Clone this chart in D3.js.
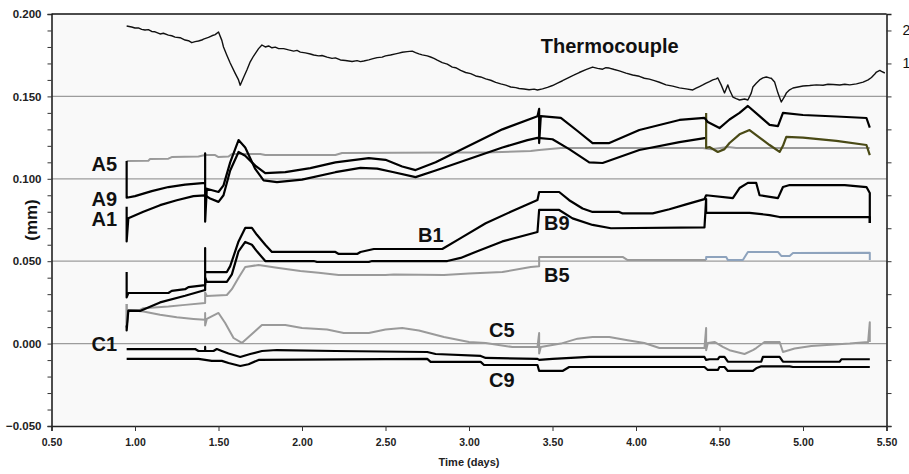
<!DOCTYPE html>
<html>
<head>
<meta charset="utf-8">
<style>
html,body { margin:0; padding:0; background:#fff; }
svg { display:block; }
text { font-family: Arial, "Liberation Sans", sans-serif; font-weight:bold; }
</style>
</head>
<body>
<svg width="909" height="474"></svg>
<script src="https://d3js.org/d3.v7.min.js"></script>
<script>
// values: [time (days), displacement (mm)]
var thermocouple = [[0.95,0.1927],[0.98,0.1921],[1.00,0.1915],[1.02,0.1916],[1.04,0.1907],[1.06,0.1903],[1.08,0.1905],[1.10,0.1894],[1.12,0.1892],[1.15,0.1879],[1.17,0.1883],[1.20,0.1872],[1.22,0.1868],[1.24,0.1860],[1.27,0.1856],[1.30,0.1842],[1.32,0.1838],[1.34,0.1826],[1.36,0.1832],[1.38,0.1836],[1.40,0.1842],[1.41,0.1848],[1.44,0.1858],[1.46,0.1868],[1.48,0.1875],[1.50,0.1891],[1.52,0.1840],[1.53,0.1800],[1.55,0.1750],[1.57,0.1703],[1.60,0.1640],[1.62,0.1600],[1.63,0.1568],[1.65,0.1615],[1.67,0.1660],[1.69,0.1710],[1.71,0.1745],[1.74,0.1790],[1.76,0.1812],[1.78,0.1800],[1.80,0.1806],[1.82,0.1795],[1.84,0.1799],[1.86,0.1790],[1.89,0.1790],[1.92,0.1782],[1.95,0.1775],[1.97,0.1779],[1.99,0.1769],[2.02,0.1764],[2.05,0.1757],[2.07,0.1751],[2.10,0.1746],[2.12,0.1748],[2.15,0.1738],[2.18,0.1731],[2.20,0.1734],[2.23,0.1721],[2.26,0.1718],[2.28,0.1715],[2.30,0.1712],[2.33,0.1717],[2.35,0.1711],[2.37,0.1715],[2.40,0.1722],[2.42,0.1728],[2.45,0.1735],[2.48,0.1738],[2.50,0.1746],[2.53,0.1751],[2.56,0.1758],[2.58,0.1763],[2.60,0.1768],[2.63,0.1772],[2.66,0.1775],[2.68,0.1766],[2.70,0.1758],[2.72,0.1752],[2.75,0.1746],[2.77,0.1739],[2.79,0.1731],[2.81,0.1720],[2.84,0.1705],[2.87,0.1696],[2.90,0.1678],[2.92,0.1674],[2.95,0.1658],[2.98,0.1645],[3.01,0.1638],[3.04,0.1624],[3.07,0.1618],[3.10,0.1606],[3.13,0.1598],[3.16,0.1585],[3.19,0.1576],[3.22,0.1568],[3.25,0.1557],[3.28,0.1553],[3.30,0.1548],[3.33,0.1545],[3.36,0.1540],[3.39,0.1544],[3.41,0.1539],[3.44,0.1546],[3.47,0.1555],[3.50,0.1566],[3.53,0.1581],[3.56,0.1595],[3.60,0.1616],[3.63,0.1630],[3.66,0.1645],[3.70,0.1662],[3.74,0.1678],[3.77,0.1670],[3.80,0.1665],[3.82,0.1674],[3.84,0.1672],[3.87,0.1663],[3.90,0.1655],[3.94,0.1641],[3.98,0.1630],[4.02,0.1622],[4.05,0.1610],[4.08,0.1605],[4.11,0.1596],[4.14,0.1586],[4.18,0.1570],[4.22,0.1562],[4.26,0.1552],[4.30,0.1546],[4.34,0.1539],[4.36,0.1550],[4.38,0.1560],[4.40,0.1570],[4.42,0.1581],[4.44,0.1590],[4.46,0.1600],[4.48,0.1606],[4.49,0.1612],[4.51,0.1570],[4.53,0.1521],[4.55,0.1570],[4.56,0.1540],[4.58,0.1496],[4.60,0.1486],[4.62,0.1478],[4.65,0.1484],[4.67,0.1478],[4.69,0.1520],[4.70,0.1557],[4.72,0.1580],[4.74,0.1600],[4.76,0.1612],[4.78,0.1618],[4.80,0.1612],[4.81,0.1610],[4.83,0.1587],[4.85,0.1520],[4.87,0.1466],[4.89,0.1500],[4.90,0.1520],[4.92,0.1540],[4.94,0.1551],[4.97,0.1557],[5.00,0.1563],[5.04,0.1566],[5.08,0.1570],[5.12,0.1568],[5.15,0.1574],[5.18,0.1572],[5.22,0.1569],[5.25,0.1574],[5.28,0.1570],[5.32,0.1576],[5.36,0.1587],[5.39,0.1600],[5.41,0.1615],[5.43,0.1636],[5.44,0.1648],[5.46,0.1658],[5.47,0.1652],[5.49,0.1642]];

var a5 = [[0.95,0.1108],[1.08,0.1110],[1.09,0.1120],[1.20,0.1122],[1.22,0.1132],[1.38,0.1135],[1.42,0.1144],[1.48,0.1144],[1.50,0.1132],[1.56,0.1135],[1.58,0.1150],[1.75,0.1150],[1.78,0.1144],[2.20,0.1144],[2.24,0.1157],[2.90,0.1160],[3.10,0.1160],[3.37,0.1169],[3.42,0.1175],[3.55,0.1187],[4.40,0.1187],[4.45,0.1180],[4.55,0.1193],[4.60,0.1187],[5.40,0.1187]];

var a9 = [[0.95,0.1108],[0.95,0.0885],[1.00,0.0895],[1.10,0.0925],[1.20,0.0950],[1.30,0.0965],[1.42,0.0975],[1.42,0.1155],[1.42,0.0740],[1.43,0.0940],[1.50,0.0920],[1.53,0.0960],[1.57,0.1100],[1.62,0.1235],[1.66,0.1190],[1.72,0.1060],[1.77,0.0990],[1.85,0.0980],[2.00,0.0995],[2.20,0.1040],[2.35,0.1066],[2.45,0.1062],[2.55,0.1040],[2.68,0.1010],[2.80,0.1050],[3.00,0.1120],[3.20,0.1190],[3.35,0.1235],[3.41,0.1248],[3.50,0.1240],[3.60,0.1180],[3.72,0.1100],[3.80,0.1096],[4.02,0.1175],[4.26,0.1223],[4.42,0.1248]];
var a9Late = [[4.42,0.1400],[4.42,0.1187],[4.44,0.1193],[4.49,0.1163],[4.53,0.1180],[4.56,0.1217],[4.62,0.1270],[4.68,0.1296],[4.74,0.1250],[4.80,0.1205],[4.86,0.1163],[4.88,0.1200],[4.90,0.1254],[5.00,0.1250],[5.20,0.1230],[5.38,0.1205],[5.40,0.1144]];

var a1 = [[0.95,0.0830],[0.95,0.0620],[0.96,0.0760],[1.05,0.0800],[1.15,0.0840],[1.25,0.0870],[1.35,0.0895],[1.42,0.0900],[1.45,0.0880],[1.50,0.0860],[1.53,0.0900],[1.57,0.1050],[1.62,0.1163],[1.66,0.1140],[1.72,0.1080],[1.78,0.1035],[1.90,0.1040],[2.05,0.1065],[2.20,0.1100],[2.40,0.1126],[2.50,0.1115],[2.60,0.1075],[2.68,0.1053],[2.80,0.1100],[3.00,0.1200],[3.20,0.1300],[3.41,0.1380],[3.42,0.1424],[3.42,0.1217],[3.43,0.1380],[3.55,0.1370],[3.65,0.1290],[3.74,0.1217],[3.84,0.1217],[4.02,0.1296],[4.26,0.1357],[4.41,0.1370],[4.43,0.1345],[4.50,0.1308],[4.56,0.1360],[4.62,0.1400],[4.67,0.1442],[4.74,0.1380],[4.80,0.1327],[4.85,0.1320],[4.88,0.1400],[5.00,0.1387],[5.20,0.1378],[5.38,0.1369],[5.40,0.1310]];

var b1 = [[0.95,0.0434],[0.95,0.0280],[0.96,0.0307],[1.20,0.0307],[1.22,0.0320],[1.30,0.0330],[1.32,0.0343],[1.42,0.0355],[1.42,0.0580],[1.42,0.0434],[1.55,0.0434],[1.57,0.0470],[1.62,0.0620],[1.66,0.0702],[1.70,0.0702],[1.73,0.0660],[1.78,0.0600],[1.82,0.0556],[2.20,0.0556],[2.22,0.0544],[2.33,0.0544],[2.35,0.0556],[2.43,0.0574],[2.84,0.0574],[2.95,0.0640],[3.10,0.0730],[3.25,0.0800],[3.41,0.0871],[3.42,0.0920],[3.54,0.0920],[3.60,0.0870],[3.68,0.0820],[3.74,0.0799],[3.90,0.0799],[3.92,0.0790],[4.10,0.0790],[4.20,0.0815],[4.30,0.0845],[4.41,0.0877],[4.42,0.0900],[4.58,0.0883],[4.62,0.0944],[4.67,0.0975],[4.72,0.0975],[4.74,0.0900],[4.85,0.0883],[4.88,0.0950],[4.92,0.0962],[5.25,0.0962],[5.38,0.0950],[5.40,0.0914],[5.40,0.0732]];

var b9 = [[0.95,0.0110],[0.95,0.0080],[0.96,0.0200],[1.03,0.0198],[1.15,0.0250],[1.30,0.0290],[1.42,0.0325],[1.42,0.0400],[1.43,0.0374],[1.55,0.0374],[1.58,0.0420],[1.62,0.0560],[1.66,0.0617],[1.70,0.0600],[1.73,0.0560],[1.78,0.0501],[2.07,0.0501],[2.09,0.0495],[2.40,0.0495],[2.42,0.0501],[2.87,0.0501],[2.95,0.0520],[3.05,0.0560],[3.20,0.0620],[3.41,0.0677],[3.42,0.0811],[3.54,0.0811],[3.62,0.0760],[3.74,0.0720],[3.85,0.0700],[4.41,0.0705],[4.42,0.0877],[4.42,0.0793],[4.68,0.0793],[4.80,0.0780],[4.86,0.0768],[5.40,0.0768],[5.40,0.0732]];

var b5 = [[0.95,0.0240],[0.95,0.0100],[0.96,0.0204],[1.03,0.0204],[1.05,0.0215],[1.20,0.0225],[1.30,0.0235],[1.42,0.0246],[1.42,0.0310],[1.43,0.0289],[1.55,0.0295],[1.58,0.0330],[1.62,0.0400],[1.66,0.0465],[1.74,0.0477],[1.85,0.0460],[1.99,0.0440],[2.10,0.0430],[2.22,0.0416],[2.50,0.0416],[2.55,0.0420],[2.85,0.0416],[3.00,0.0425],[3.20,0.0434],[3.37,0.0465],[3.42,0.0470],[3.42,0.0526],[3.92,0.0526],[3.95,0.0507],[4.42,0.0507]];
var b5Late = [[4.42,0.0507],[4.42,0.0526],[4.54,0.0526],[4.55,0.0507],[4.64,0.0507],[4.67,0.0556],[4.85,0.0556],[4.87,0.0532],[4.92,0.0532],[4.94,0.0550],[5.40,0.0552],[5.40,0.0507]];

var c5 = [[0.95,0.0240],[0.95,0.0100],[0.96,0.0204],[1.05,0.0195],[1.15,0.0175],[1.25,0.0160],[1.35,0.0150],[1.42,0.0144],[1.42,0.0186],[1.42,0.0110],[1.43,0.0150],[1.50,0.0186],[1.54,0.0125],[1.59,0.0034],[1.64,0.0004],[1.68,0.0040],[1.76,0.0113],[1.90,0.0113],[2.00,0.0095],[2.15,0.0085],[2.25,0.0064],[2.40,0.0064],[2.50,0.0085],[2.60,0.0094],[2.70,0.0080],[2.85,0.0040],[3.00,0.0010],[3.10,0.0004],[3.26,-0.0021],[3.41,-0.0021],[3.42,0.0064],[3.42,-0.0060],[3.43,-0.0021],[3.55,0.0000],[3.65,0.0030],[3.74,0.0040],[3.84,0.0040],[3.95,0.0020],[4.05,0.0004],[4.14,-0.0027],[4.41,-0.0027],[4.42,0.0095],[4.42,-0.0040],[4.43,0.0004],[4.47,0.0010],[4.52,-0.0020],[4.56,-0.0040],[4.65,-0.0063],[4.70,-0.0040],[4.72,-0.0027],[4.77,0.0010],[4.86,0.0010],[4.88,-0.0051],[4.95,-0.0030],[5.05,-0.0015],[5.28,0.0000],[5.39,0.0010],[5.40,0.0130],[5.40,0.0010]];

var c1 = [[0.95,-0.0033],[1.36,-0.0033],[1.38,-0.0045],[1.42,-0.0045],[1.42,-0.0020],[1.42,-0.0045],[1.47,-0.0045],[1.49,-0.0033],[1.52,-0.0045],[1.56,-0.0060],[1.63,-0.0081],[1.69,-0.0063],[1.76,-0.0045],[1.85,-0.0039],[2.20,-0.0045],[2.75,-0.0051],[2.80,-0.0063],[3.07,-0.0075],[3.10,-0.0087],[3.41,-0.0093],[3.42,-0.0099],[3.50,-0.0093],[3.72,-0.0081],[4.41,-0.0081],[4.42,-0.0099],[4.44,-0.0095],[4.49,-0.0095],[4.50,-0.0081],[4.53,-0.0081],[4.55,-0.0110],[4.75,-0.0110],[4.76,-0.0081],[4.86,-0.0081],[4.88,-0.0110],[5.22,-0.0110],[5.23,-0.0095],[5.40,-0.0095]];

var c9 = [[0.95,-0.0093],[1.38,-0.0093],[1.42,-0.0099],[1.46,-0.0105],[1.52,-0.0105],[1.56,-0.0118],[1.63,-0.0136],[1.68,-0.0125],[1.74,-0.0099],[2.75,-0.0093],[2.77,-0.0111],[3.07,-0.0111],[3.09,-0.0130],[3.41,-0.0130],[3.42,-0.0166],[3.56,-0.0166],[3.60,-0.0142],[4.41,-0.0142],[4.43,-0.0160],[4.49,-0.0160],[4.50,-0.0142],[4.53,-0.0142],[4.55,-0.0166],[4.70,-0.0166],[4.72,-0.0150],[4.75,-0.0138],[4.92,-0.0138],[4.94,-0.0142],[5.40,-0.0142]];

// series label names and where they sit [time, mm]
var labelNames = ["Thermocouple","A5","A9","A1","B1","B9","B5","C5","C1","C9"];
var labelAt = [[3.43,0.1763],[0.74,0.1047],[0.74,0.0835],[0.74,0.0714],[2.695,0.0617],[3.449,0.0689],[3.449,0.0374],[3.12,0.0040],[0.74,-0.0045],[3.12,-0.0263]];

var xTicks = [0.5,1,1.5,2,2.5,3,3.5,4,4.5,5,5.5];
var yTicks = [-0.05,0,0.05,0.1,0.15,0.2];
var rightTickLabels = ["2","1"];

var svg = d3.select("svg"),
    margin = {top: 14, right: 22.5, bottom: 48, left: 51.5},
    width = 909 - margin.left - margin.right,
    height = 474 - margin.top - margin.bottom,
    g = svg.append("g").attr("transform", "translate(" + margin.left + "," + margin.top + ")");

var x = d3.scaleLinear().domain([0.5, 5.5]).range([0, width]);
var y = d3.scaleLinear().domain([-0.05, 0.2]).range([height, 0]);

g.append("rect").attr("width", width).attr("height", height).attr("fill", "#f9f9f9");

// horizontal grid
g.selectAll(".grid").data([0, 0.05, 0.1, 0.15]).enter().append("line")
    .attr("x1", 0).attr("x2", width)
    .attr("y1", function(d) { return y(d); }).attr("y2", function(d) { return y(d); })
    .attr("stroke", "#9c9c9c").attr("stroke-width", 1.3);

var line = d3.line()
    .x(function(d) { return x(d[0]); })
    .y(function(d) { return y(d[1]); });

var series = [
  {data: a5, color: "#9a9a9a", w: 2},
  {data: b5, color: "#9a9a9a", w: 2},
  {data: b5Late, color: "#8ea3bd", w: 2},
  {data: c5, color: "#9a9a9a", w: 2},
  {data: thermocouple, color: "#111", w: 1.4},
  {data: a9, color: "#000", w: 2.2},
  {data: a9Late, color: "#4a4a16", w: 2.2},
  {data: a1, color: "#000", w: 2.2},
  {data: b1, color: "#000", w: 2.2},
  {data: b9, color: "#000", w: 2.2},
  {data: c1, color: "#000", w: 2.2},
  {data: c9, color: "#000", w: 2.2}
];

g.selectAll(".series").data(series).enter().append("path")
    .attr("fill", "none")
    .attr("stroke", function(d) { return d.color; })
    .attr("stroke-width", function(d) { return d.w; })
    .attr("stroke-linejoin", "round")
    .attr("d", function(d) { return line(d.data); });

// axes
var xAxis = g.append("g")
    .attr("transform", "translate(0," + height + ")")
    .call(d3.axisBottom(x).tickValues(xTicks).tickFormat(d3.format(".2f")).tickSize(5).tickPadding(8));
xAxis.selectAll("text").style("font-size", "10.5px").attr("fill", "#222");

var yAxis = g.append("g")
    .call(d3.axisLeft(y).ticks(25).tickSize(4).tickPadding(6)
      .tickFormat(function(d) { return yTicks.some(function(t) { return Math.abs(t - d) < 1e-9; }) ? d3.format(".3f")(d) : ""; }));
yAxis.selectAll("text").style("font-size", "11.5px").attr("fill", "#222");

var rightVals = d3.range(0, 13).map(function(i) { return -0.05 + 0.02 * i; });
var rAxis = g.append("g")
    .attr("transform", "translate(" + width + ",0)")
    .call(d3.axisRight(y).tickValues(rightVals).tickSize(5).tickPadding(11)
      .tickFormat(function(d, i) { return rightTickLabels[12 - i] || ""; }));
rAxis.selectAll("text").style("font-size", "14px").style("font-weight", "normal").attr("fill", "#111");

[xAxis, yAxis, rAxis].forEach(function(a) {
  a.select(".domain").attr("stroke", "#222").attr("stroke-width", 1.6);
  a.selectAll(".tick line").attr("stroke", "#333");
});

// top border
g.append("line").attr("x1", 0).attr("x2", width).attr("y1", 0).attr("y2", 0)
    .attr("stroke", "#111").attr("stroke-width", 1.6);

// series labels
g.selectAll(".lbl").data(labelNames).enter().append("text")
    .attr("x", function(d, i) { return x(labelAt[i][0]); })
    .attr("y", function(d, i) { return y(labelAt[i][1]); })
    .style("font-size", "20px")
    .attr("fill", "#111")
    .text(function(d) { return d; });

svg.append("text")
    .attr("transform", "translate(31," + (margin.top + y(0.075)) + ") rotate(-90)")
    .attr("text-anchor", "middle").attr("dy", "0.35em")
    .style("font-size", "17px").attr("fill", "#111")
    .text("(mm)");

svg.append("text")
    .attr("x", margin.left + x(3)).attr("y", 466)
    .attr("text-anchor", "middle")
    .style("font-size", "11px").attr("fill", "#222")
    .text("Time (days)");
</script>
</body>
</html>
